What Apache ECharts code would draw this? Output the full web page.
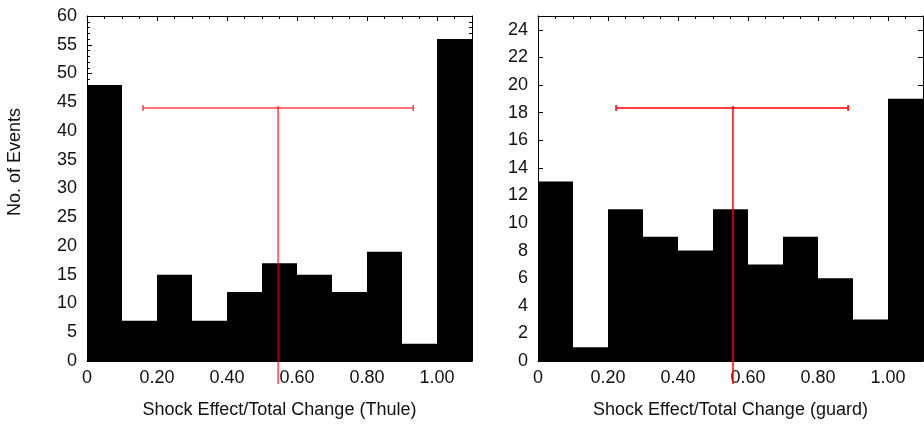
<!DOCTYPE html>
<html>
<head>
<meta charset="utf-8">
<script src="https://cdn.jsdelivr.net/npm/echarts@6/dist/echarts.min.js"></script>
<style>
html,body{margin:0;padding:0;background:#fff;}
#chart{width:924px;height:424px;}
</style>
</head>
<body>
<div id="chart"></div>
<script>
// Bin edges (Shock Effect / Total Change)
const binEdges = [0, 0.1, 0.2, 0.3, 0.4, 0.5, 0.6, 0.7, 0.8, 0.9, 1.0, 1.1];
// Counts per bin
const thuleCounts = [48, 7, 15, 7, 12, 17, 15, 12, 19, 3, 56];
const guardCounts = [13, 1, 11, 9, 8, 11, 7, 9, 6, 3, 19];
// Error bars: [low, mean, high, level]
const thuleErrorBar = [0.16, 0.546, 0.932, 44];
const guardErrorBar = [0.223, 0.557, 0.886, 18.33];
// Axis titles
const xTitles = ['Shock Effect/Total Change (Thule)', 'Shock Effect/Total Change (guard)'];
const yTitle = 'No. of Events';
const yMax = [60, 25];
const yInterval = [5, 2];

const FONT = 'Liberation Sans, Arial, Helvetica, sans-serif';
const rects = [
  {left: 87, top: 16, width: 385, height: 345},
  {left: 538, top: 16, width: 385, height: 345}
];
// main grids + overlay grids (for fine top ticks)
const grids = [rects[0], rects[1], rects[0], rects[1]];

const xAxes = [], yAxes = [], series = [];
const lineStyle = {color: '#000', width: 1};

[0, 1].forEach(g => {
  const base = xAxes.length;
  xAxes.push({
    gridIndex: g, type: 'value', min: 0, max: 1.1, interval: 0.2, position: 'bottom',
    axisLine: {show: true, onZero: false, lineStyle},
    axisTick: {show: true, inside: true, length: 5, lineStyle},
    axisLabel: {show: true, margin: 8, color: '#111', fontFamily: FONT, fontSize: 18,
      showMaxLabel: false,
      formatter: v => v === 0 ? '0' : (v > 1.05 ? '' : v.toFixed(2))},
    splitLine: {show: false},
    name: xTitles[g], nameLocation: 'middle', nameGap: 40,
    nameTextStyle: {color: '#111', fontFamily: FONT, fontSize: 18}
  });
  xAxes.push({
    gridIndex: g, type: 'value', min: 0, max: 1.1, interval: 0.2, position: 'top',
    axisLine: {show: true, onZero: false, lineStyle},
    axisTick: {show: true, inside: true, length: 5, lineStyle},
    axisLabel: {show: false}, splitLine: {show: false}
  });
  const yb = yAxes.length;
  const minor = g === 0 ? {show: true, splitNumber: 5, length: 3, lineStyle} : {show: false};
  yAxes.push({
    gridIndex: g, type: 'value', min: 0, max: yMax[g], interval: yInterval[g], position: 'left',
    axisLine: {show: true, onZero: false, lineStyle},
    axisTick: {show: true, inside: true, length: 5, lineStyle},
    minorTick: minor,
    axisLabel: {show: true, margin: 10, color: '#111', fontFamily: FONT, fontSize: 18,
      showMaxLabel: g === 0,
      formatter: v => (g === 1 && v > 24) ? '' : String(v)},
    splitLine: {show: false}, minorSplitLine: {show: false}
  });
  yAxes.push({
    gridIndex: g, type: 'value', min: 0, max: yMax[g], interval: yInterval[g], position: 'right',
    axisLine: {show: true, onZero: false, lineStyle},
    axisTick: {show: true, inside: true, length: 5, lineStyle},
    minorTick: minor,
    axisLabel: {show: false}, splitLine: {show: false}, minorSplitLine: {show: false}
  });

  const counts = g === 0 ? thuleCounts : guardCounts;
  const data = counts.map((c, i) => [binEdges[i], binEdges[i + 1], c]);
  series.push({
    type: 'custom', xAxisIndex: base, yAxisIndex: yb, z: 2,
    data,
    encode: {x: [0, 1], y: 2},
    renderItem: (params, api) => {
      const p0 = api.coord([api.value(0), 0]);
      const p1 = api.coord([api.value(1), api.value(2)]);
      return {type: 'rect',
        shape: {x: p0[0], y: p1[1], width: p1[0] - p0[0], height: p0[1] - p1[1]},
        style: {fill: '#000'}};
    }
  });

  const eb = g === 0 ? thuleErrorBar : guardErrorBar;
  const red = g === 0 ? 'rgba(255,0,0,0.72)' : 'rgba(255,0,0,1)';
  series.push({
    type: 'custom', xAxisIndex: base, yAxisIndex: yb, z: 5, clip: false,
    data: [eb],
    encode: {x: [0, 1, 2], y: 3},
    renderItem: (params, api) => {
      const lo = api.coord([api.value(0), api.value(3)]);
      const mid = api.coord([api.value(1), api.value(3)]);
      const hi = api.coord([api.value(2), api.value(3)]);
      const bottom = api.coord([api.value(1), 0])[1] + 23;
      const st = {stroke: red, lineWidth: 1.5, fill: null};
      return {type: 'group', children: [
        {type: 'line', shape: {x1: lo[0], y1: lo[1], x2: hi[0], y2: hi[1]}, style: st},
        {type: 'line', shape: {x1: lo[0], y1: lo[1] - 3, x2: lo[0], y2: lo[1] + 3}, style: st},
        {type: 'line', shape: {x1: hi[0], y1: hi[1] - 3, x2: hi[0], y2: hi[1] + 3}, style: st},
        {type: 'line', shape: {x1: mid[0], y1: mid[1] - 2, x2: mid[0], y2: bottom}, style: st}
      ]};
    }
  });
});

// overlay grids: fine top ticks every 0.05
[0, 1].forEach(g => {
  xAxes.push({
    gridIndex: g + 2, type: 'value', min: 0, max: 1.1, interval: 0.05, position: 'top',
    axisLine: {show: false, onZero: false},
    axisTick: {show: true, inside: true, length: 3, lineStyle},
    axisLabel: {show: false}, splitLine: {show: false}
  });
  yAxes.push({
    gridIndex: g + 2, type: 'value', min: 0, max: yMax[g], show: false
  });
});

const chart = echarts.init(document.getElementById('chart'), null, {renderer: 'canvas'});
chart.setOption({
  animation: false,
  backgroundColor: '#fff',
  textStyle: {fontFamily: FONT},
  grid: grids,
  xAxis: xAxes,
  yAxis: yAxes,
  graphic: [{
    type: 'text', x: 15, y: 162, rotation: Math.PI / 2,
    style: {text: yTitle, fill: '#111', font: '18px ' + FONT, align: 'center', verticalAlign: 'middle'}
  }],
  series
});
</script>
</body>
</html>
